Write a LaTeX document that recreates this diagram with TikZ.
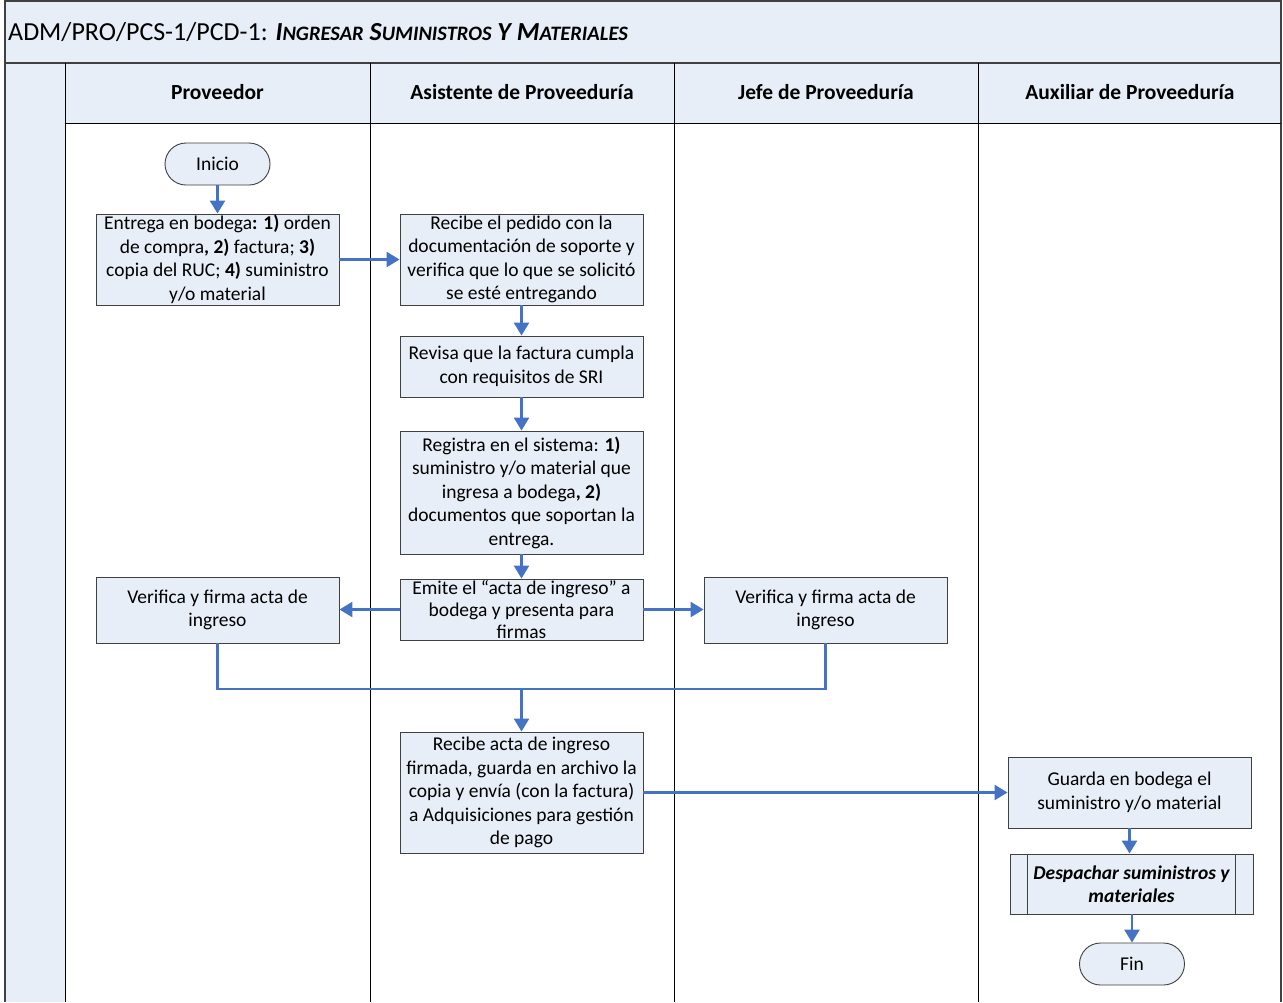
\documentclass[tikz,border=0pt]{standalone}
\usepackage{fontspec}
\setmainfont{Carlito}
\usetikzlibrary{arrows.meta,calc}
\definecolor{lb}{RGB}{232,238,247}
\definecolor{ab}{RGB}{68,114,196}
\definecolor{bd}{RGB}{64,64,64}
\newcommand\scw[2]{#1{\fontsize{20.5}{24}\selectfont #2}}
\begin{document}
\begin{tikzpicture}[x=1pt,y=-1pt,
  box/.style={draw=bd, fill=lb, line width=0.9pt, minimum width=243pt, inner sep=0pt, align=center, font=\fontsize{19.5}{23.5}\selectfont},
  term/.style={box, rounded corners=21pt, minimum width=105pt, minimum height=42pt},
  conn/.style={draw=ab, line width=2.5pt, -{Triangle[length=13pt,width=15pt]}},
  flow/.style={draw=ab, line width=2.5pt},
  hdr/.style={font=\fontsize{21.5}{25}\selectfont\bfseries},
  frame/.style={draw=bd, line width=1.3pt}
]
\useasboundingbox (0,0) rectangle (1283,1002);
\fill[white] (0,0) rectangle (1283,1002);
% title band
\fill[lb] (5,1) rectangle (1281,62);
\draw[frame] (5,1) -- (1281,1);
% pool backgrounds
\fill[lb] (5,63) rectangle (65,1002);
\fill[lb] (65,63) rectangle (1281,123);
% lines
\draw[frame, line width=2pt] (5,63) -- (1281,63);
\draw[frame] (5,0) -- (5,1002);
\draw[frame] (1281,0) -- (1281,1002);
\draw[black, line width=1pt] (65,123) -- (1281,123);
\foreach \xx in {65,370,674,978} {\draw[black, line width=1pt] (\xx,63) -- (\xx,1002);}
% title
\node[anchor=west, inner sep=0pt, font=\fontsize{26}{30}\selectfont] (title) at (8,32)
  {ADM/PRO/PCS-1/PCD-1: \textbf{\textit{\scw{I}{NGRESAR} \scw{S}{UMINISTROS} \scw{Y}{} \scw{M}{ATERIALES}}}};
% headers
\node[hdr] (h1) at (217.5,92) {Proveedor};
\node[hdr] (h2) at (522,92) {Asistente de Proveeduría};
\node[hdr] (h3) at (826,92) {Jefe de Proveeduría};
\node[hdr] (h4) at (1130,92) {Auxiliar de Proveeduría};
% nodes
\node[term] (ini) at (217.5,164) {Inicio};
\node[box, minimum height=91pt] (ent) at (217.5,259.5) {Entrega en bodega\textbf{: 1)} orden\\de compra\textbf{, 2)} factura; \textbf{3)}\\copia del RUC; \textbf{4)} suministro\\y/o material};
\node[box, minimum height=91pt] (rec) at (521.5,259.5) {Recibe el pedido con la\\documentación de soporte y\\verifica que lo que se solicitó\\se esté entregando};
\node[box, minimum height=61pt] (rev) at (521.5,366.5) {Revisa que la factura cumpla\\con requisitos de SRI};
\node[box, minimum height=123pt] (reg) at (521.5,492.5) {Registra en el sistema: \textbf{1)}\\suministro y/o material que\\ingresa a bodega\textbf{, 2)}\\documentos que soportan la\\entrega.};
\node[box, minimum height=61pt, font=\fontsize{19.5}{22}\selectfont] (emi) at (521.5,609.5) {Emite el “acta de ingreso” a\\bodega y presenta para\\firmas};
\node[box, minimum height=66pt] (verp) at (217.5,610) {Verifica y firma acta de\\ingreso};
\node[box, minimum height=66pt] (verj) at (825.5,610) {Verifica y firma acta de\\ingreso};
\node[box, minimum height=121pt] (rac) at (521.5,792.5) {Recibe acta de ingreso\\firmada, guarda en archivo la\\copia y envía (con la factura)\\a Adquisiciones para gestión\\de pago};
\node[box, minimum height=71pt] (gua) at (1129.5,792.5) {Guarda en bodega el\\suministro y/o material};
\node[box, minimum height=60pt, font=\fontsize{19.5}{23.5}\selectfont\bfseries\itshape] (des) at (1131.5,884) {Despachar suministros y\\materiales};
\draw[bd, line width=0.9pt] ([xshift=18pt]des.north west) -- ([xshift=18pt]des.south west);
\draw[bd, line width=0.9pt] ([xshift=-18pt]des.north east) -- ([xshift=-18pt]des.south east);
\node[term] (fin) at (1132,964) {Fin};
% connectors
\draw[conn] (ini) -- (ent);
\draw[conn] (ent) -- (rec);
\draw[conn] (rec) -- (rev);
\draw[conn] (rev) -- (reg);
\draw[conn] (reg) -- (emi);
\draw[conn] (emi.west) -- (emi.west -| verp.east);
\draw[conn] (emi.east) -- (emi.east -| verj.west);
\coordinate (mrg) at (521.5,689);
\draw[flow] (verp.south) |- (mrg);
\draw[flow] (verj.south) |- (mrg);
\draw[conn] (mrg) -- (rac.north);
\draw[conn] (rac) -- (gua);
\draw[conn] (gua.south) -- (gua.south |- des.north);
\draw[conn] (des.south -| fin.north) -- (fin.north);
\end{tikzpicture}
\end{document}
